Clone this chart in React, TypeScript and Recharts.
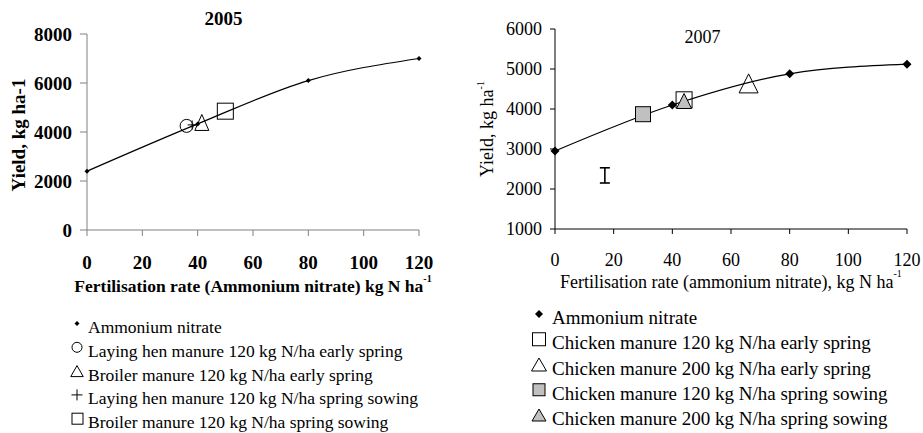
import { ComposedChart, Line, Scatter, XAxis, YAxis, ErrorBar } from 'recharts';

const SERIF = "'Liberation Serif', 'Times New Roman', serif";

// shared x ticks (kg N/ha)
const rateTicks = [0, 20, 40, 60, 80, 100, 120];

// ---- 2005 ----
const yTicks2005 = [0, 2000, 4000, 6000, 8000];
const an2005Rate = [0, 40, 80, 120];
const an2005Yield = [2400, 4330, 6100, 7000];
const henEarly2005 = { rate: [36], yield: [4250] };
const broilerEarly2005 = { rate: [41.5], yield: [4390] };
const henSowing2005 = { rate: [38], yield: [4290] };
const broilerSowing2005 = { rate: [50], yield: [4850] };
const legend2005 = [
  'Ammonium nitrate',
  'Laying hen manure 120 kg N/ha early spring',
  'Broiler manure 120 kg N/ha early spring',
  'Laying hen manure 120 kg N/ha spring sowing',
  'Broiler manure 120 kg N/ha spring sowing',
];

// ---- 2007 ----
const yTicks2007 = [1000, 2000, 3000, 4000, 5000, 6000];
const an2007Rate = [0, 40, 80, 120];
const an2007Yield = [2950, 4100, 4880, 5120];
const ch120Early2007 = { rate: [44], yield: [4230] };
const ch200Early2007 = { rate: [66], yield: [4640] };
const ch120Sowing2007 = { rate: [30], yield: [3870] };
const ch200Sowing2007 = { rate: [44], yield: [4200] };
const lsd2007 = { rate: [17], yield: [2340], err: [190] };
const legend2007 = [
  'Ammonium nitrate',
  'Chicken manure 120 kg N/ha early spring',
  'Chicken manure 200 kg N/ha early spring',
  'Chicken manure 120 kg N/ha spring sowing',
  'Chicken manure 200 kg N/ha spring sowing',
];

const pts = (xs: number[], ys: number[], errs?: number[]) =>
  xs.map((x, i) => ({ x, y: ys[i], err: errs ? errs[i] : 0 }));

const GREY = '#c0c0c0';

// marker drawers, used by the plots and the legends
const diamond = (cx: number, cy: number, r: number) => (
  <path d={`M${cx},${cy - r}L${cx + r},${cy}L${cx},${cy + r}L${cx - r},${cy}Z`} fill="#000" />
);
const circle = (cx: number, cy: number, r: number) => (
  <circle cx={cx} cy={cy} r={r} fill="none" stroke="#000" strokeWidth={1} />
);
const triangle = (cx: number, cy: number, w: number, h: number, fill = 'none') => (
  <polygon
    points={`${cx},${cy - h / 2} ${cx + w / 2},${cy + h / 2} ${cx - w / 2},${cy + h / 2}`}
    fill={fill}
    stroke="#000"
    strokeWidth={1}
  />
);
const plus = (cx: number, cy: number, s: number) => (
  <path d={`M${cx - s / 2},${cy}H${cx + s / 2}M${cx},${cy - s / 2}V${cy + s / 2}`} stroke="#000" strokeWidth={1} />
);
const square = (cx: number, cy: number, s: number, fill = 'none') => (
  <rect x={cx - s / 2} y={cy - s / 2} width={s} height={s} fill={fill} stroke="#000" strokeWidth={1} />
);

const xLabel = (text: string, bold: boolean, dy: number, supDy: number, fontSize: number) => (props: any) => {
  const vb = props.viewBox || { x: 0, y: 0, width: 0, height: 0 };
  return (
    <text
      x={vb.x + vb.width / 2}
      y={vb.y + dy}
      textAnchor="middle"
      fontFamily={SERIF}
      fontSize={fontSize}
      fontWeight={bold ? 'bold' : 'normal'}
      fill="#000"
    >
      {text}
      <tspan dy={supDy} fontSize={10}>-1</tspan>
    </text>
  );
};

function Chart2005() {
  const axisColor = '#808080';
  const tick = { fill: '#000', fontSize: 19, fontWeight: 'bold', fontFamily: SERIF };
  return (
    <ComposedChart width={460} height={300} margin={{ top: 34, right: 41, left: 0, bottom: 0 }}>
      <XAxis
        type="number"
        dataKey="x"
        domain={[0, 120]}
        ticks={rateTicks}
        tick={tick}
        tickSize={6}
        tickMargin={20}
        stroke={axisColor}
        label={xLabel('Fertilisation rate (Ammonium nitrate) kg N ha', true, 62, -10, 17.5)}
        height={70}
      />
      <YAxis
        type="number"
        dataKey="y"
        domain={[0, 8000]}
        ticks={yTicks2005}
        tick={tick}
        tickSize={7}
        tickMargin={8}
        stroke={axisColor}
        width={87}
        label={(props: any) => {
          const vb = props.viewBox || { x: 0, y: 34, width: 87, height: 196 };
          const cx = vb.x + 25;
          const cy = vb.y + vb.height / 2 + 3;
          return (
            <text
              transform={`translate(${cx},${cy}) rotate(-90)`}
              textAnchor="middle"
              fontFamily={SERIF}
              fontSize={19}
              fontWeight="bold"
              fill="#000"
            >
              Yield, kg ha-1
            </text>
          );
        }}
      />
      <Line
        data={pts(an2005Rate, an2005Yield)}
        dataKey="y"
        type="monotone"
        stroke="#000"
        strokeWidth={1.2}
        dot={false}
        isAnimationActive={false}
      />
      <Scatter data={pts(an2005Rate, an2005Yield)} dataKey="y" shape={(p: any) => diamond(p.cx, p.cy, 2.5)} isAnimationActive={false} />
      <Scatter data={pts(henEarly2005.rate, henEarly2005.yield)} dataKey="y" shape={(p: any) => circle(p.cx, p.cy, 6.5)} isAnimationActive={false} />
      <Scatter data={pts(broilerEarly2005.rate, broilerEarly2005.yield)} dataKey="y" shape={(p: any) => triangle(p.cx, p.cy, 14, 16)} isAnimationActive={false} />
      <Scatter data={pts(henSowing2005.rate, henSowing2005.yield)} dataKey="y" shape={(p: any) => plus(p.cx, p.cy, 9)} isAnimationActive={false} />
      <Scatter data={pts(broilerSowing2005.rate, broilerSowing2005.yield)} dataKey="y" shape={(p: any) => square(p.cx, p.cy, 16)} isAnimationActive={false} />
    </ComposedChart>
  );
}

function Chart2007() {
  const tick = { fill: '#000', fontSize: 18, fontFamily: SERIF };
  return (
    <ComposedChart width={453} height={300} margin={{ top: 29, right: 16, left: 0, bottom: 0 }}>
      <XAxis
        type="number"
        dataKey="x"
        domain={[0, 120]}
        ticks={rateTicks}
        tick={tick}
        tickSize={5}
        tickMargin={19}
        stroke="#000"
        label={xLabel('Fertilisation rate (ammonium nitrate), kg N ha', false, 59, -11, 18)}
        height={71}
      />
      <YAxis
        type="number"
        dataKey="y"
        domain={[1000, 6000]}
        ticks={yTicks2007}
        tick={tick}
        tickSize={5}
        tickMargin={8}
        stroke="#000"
        width={85}
        label={(props: any) => {
          const vb = props.viewBox || { x: 0, y: 29, width: 85, height: 200 };
          const cx = vb.x + 23;
          const cy = vb.y + vb.height / 2;
          return (
            <text
              transform={`translate(${cx},${cy}) rotate(-90)`}
              textAnchor="middle"
              fontFamily={SERIF}
              fontSize={18}
              fill="#000"
            >
              Yield, kg ha
              <tspan dy={-9} fontSize={10}>-1</tspan>
            </text>
          );
        }}
      />
      <Line
        data={pts(an2007Rate, an2007Yield)}
        dataKey="y"
        type="monotone"
        stroke="#000"
        strokeWidth={1.2}
        dot={false}
        isAnimationActive={false}
      />
      <Scatter data={pts(an2007Rate, an2007Yield)} dataKey="y" shape={(p: any) => diamond(p.cx, p.cy, 4.5)} isAnimationActive={false} />
      <Scatter data={pts(ch120Sowing2007.rate, ch120Sowing2007.yield)} dataKey="y" shape={(p: any) => square(p.cx, p.cy, 15, GREY)} isAnimationActive={false} />
      <Scatter data={pts(ch120Early2007.rate, ch120Early2007.yield)} dataKey="y" shape={(p: any) => square(p.cx, p.cy, 16)} isAnimationActive={false} />
      <Scatter data={pts(ch200Sowing2007.rate, ch200Sowing2007.yield)} dataKey="y" shape={(p: any) => triangle(p.cx, p.cy, 15, 15, GREY)} isAnimationActive={false} />
      <Scatter data={pts(ch200Early2007.rate, ch200Early2007.yield)} dataKey="y" shape={(p: any) => triangle(p.cx, p.cy, 19, 19)} isAnimationActive={false} />
      <Scatter data={pts(lsd2007.rate, lsd2007.yield, lsd2007.err)} dataKey="y" shape={() => <g />} isAnimationActive={false}>
        <ErrorBar dataKey="err" direction="y" width={5} stroke="#000" strokeWidth={1.6} isAnimationActive={false} />
      </Scatter>
    </ComposedChart>
  );
}

export default function App() {
  const left2005 = [
    (cy: number) => diamond(77, cy, 2.5),
    (cy: number) => circle(77, cy, 5),
    (cy: number) => triangle(77, cy, 12.5, 11),
    (cy: number) => plus(77, cy, 11),
    (cy: number) => square(77.5, cy, 11),
  ];
  const left2007 = [
    (cy: number) => diamond(539, cy, 4),
    (cy: number) => square(539, cy, 13),
    (cy: number) => triangle(539, cy, 15, 13),
    (cy: number) => square(539, cy, 12, GREY),
    (cy: number) => triangle(539, cy, 14, 12, GREY),
  ];
  return (
    <div style={{ position: 'absolute', left: 0, top: 0, width: 923, height: 433, background: '#fff', overflow: 'hidden' }}>
      <div style={{ position: 'absolute', left: 0, top: 0 }}>
        <Chart2005 />
      </div>
      <div style={{ position: 'absolute', left: 470, top: 0 }}>
        <Chart2007 />
      </div>
      <svg width={923} height={433} style={{ position: 'absolute', left: 0, top: 0, pointerEvents: 'none' }}>
        <text x={223.5} y={25} textAnchor="middle" fontFamily={SERIF} fontSize={19} fontWeight="bold">
          2005
        </text>
        <text x={702.5} y={43} textAnchor="middle" fontFamily={SERIF} fontSize={18}>
          2007
        </text>
        {legend2005.map((name, i) => {
          const base = 333 + i * 23.8;
          return (
            <g key={name}>
              {left2005[i](base - 9.5)}
              <text x={88} y={base} fontFamily={SERIF} fontSize={17.5}>
                {name}
              </text>
            </g>
          );
        })}
        {legend2007.map((name, i) => {
          const base = 324 + i * 25.25;
          return (
            <g key={name}>
              {left2007[i](base - 10)}
              <text x={552} y={base} fontFamily={SERIF} fontSize={19}>
                {name}
              </text>
            </g>
          );
        })}
      </svg>
    </div>
  );
}
